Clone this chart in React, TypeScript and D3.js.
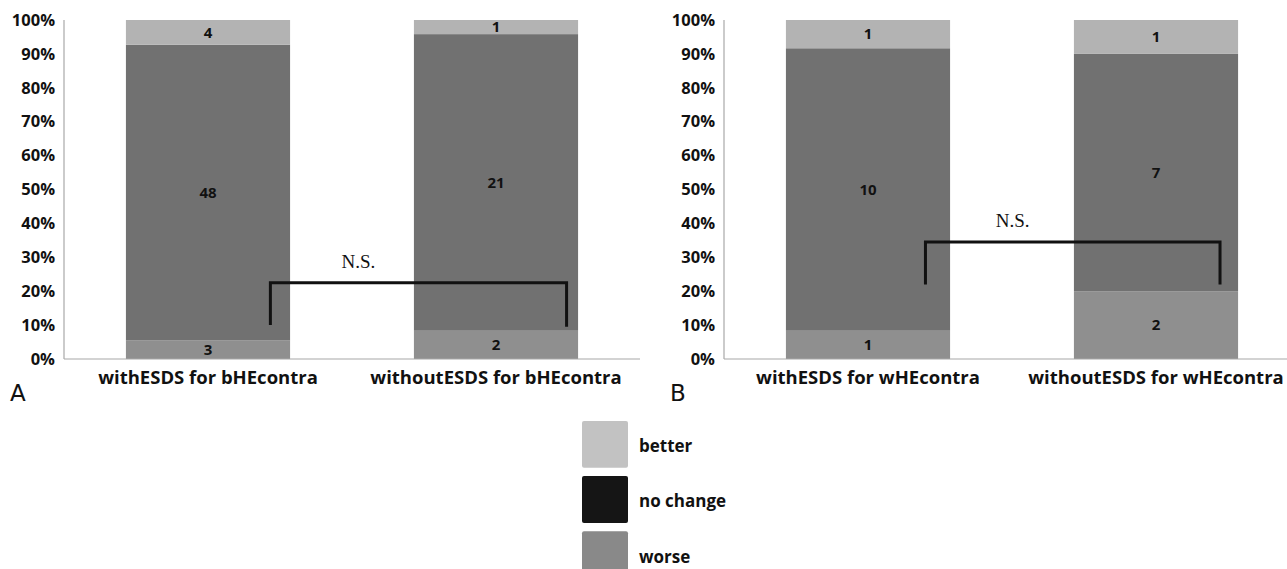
import React from "react";
import * as d3 from "d3";

// panel A: with / without ESDS for bHEcontra
const categoriesA = ["withESDS for bHEcontra", "withoutESDS for bHEcontra"];
const worseA = [3, 2];
const noChangeA = [48, 21];
const betterA = [4, 1];

// panel B: with / without ESDS for wHEcontra
const categoriesB = ["withESDS for wHEcontra", "withoutESDS for wHEcontra"];
const worseB = [1, 2];
const noChangeB = [10, 7];
const betterB = [1, 1];

const seriesKeys = ["worse", "noChange", "better"];
const legendLabels = ["better", "no change", "worse"];
const yTicks = [0, 0.1, 0.2, 0.3, 0.4, 0.5, 0.6, 0.7, 0.8, 0.9, 1];

// N.S. brackets, in percent of the y axis
const bracketTop = [0.225, 0.345];
const bracketBottom = [[0.1, 0.095], [0.22, 0.22]];
const bracketPos = [[0.88, 0.93], [0.85, 0.89]];

const barColors: Record<string, string> = {
  worse: "#8f8f8f",
  noChange: "#717171",
  better: "#b3b3b3"
};
const legendColors = ["#c2c2c2", "#151515", "#898989"];

const font = "'Open Sans', 'DejaVu Sans', sans-serif";

function Panel({ left, letter, categories, worse, noChange, better, panelIdx }: any) {
  const top = 20,
    bottom = 359,
    width = 576;

  const rows = categories.map((c: string, i: number) => {
    const total = worse[i] + noChange[i] + better[i];
    return {
      cat: c,
      worse: worse[i] / total,
      noChange: noChange[i] / total,
      better: better[i] / total,
      counts: { worse: worse[i], noChange: noChange[i], better: better[i] }
    };
  });

  const x = d3.scaleBand()
    .domain(categories)
    .range([left, left + width])
    .paddingInner(0.43)
    .paddingOuter(0.215);

  const y = d3.scaleLinear().domain([0, 1]).range([bottom, top]);

  const stacked = d3.stack<any>().keys(seriesKeys)(rows);

  const bars = stacked.map(layer => layer.map((d, i) => (
    <rect
      key={layer.key + i}
      x={x(rows[i].cat)}
      y={y(d[1])}
      width={x.bandwidth()}
      height={y(d[0]) - y(d[1])}
      fill={barColors[layer.key]}
    />
  )));

  const labels = stacked.map(layer => layer.map((d, i) => (
    <text
      key={"l" + layer.key + i}
      x={(x(rows[i].cat) as number) + x.bandwidth() / 2}
      y={(y(d[0]) + y(d[1])) / 2}
      dy=".35em"
      textAnchor="middle"
      fontSize={15}
      fontWeight="bold"
      fill="#111"
    >{rows[i].counts[layer.key]}</text>
  )));

  const axisLeft = yTicks.map((t, i) => (
    <text
      key={i}
      x={left - 9}
      y={y(t)}
      dy=".35em"
      textAnchor="end"
      fontSize={16.5}
      fontWeight="bold"
      fill="#111"
    >{Math.round(t * 100) + "%"}</text>
  ));

  const catLabels = categories.map((c: string, i: number) => (
    <text
      key={i}
      x={(x(c) as number) + x.bandwidth() / 2}
      y={384}
      textAnchor="middle"
      fontSize={18.5}
      fontWeight="bold"
      fill="#111"
    >{c}</text>
  ));

  const bx1 = (x(categories[0]) as number) + x.bandwidth() * bracketPos[panelIdx][0];
  const bx2 = (x(categories[1]) as number) + x.bandwidth() * bracketPos[panelIdx][1];
  const by = y(bracketTop[panelIdx]);

  return (
    <g style={{ fontFamily: font }}>
      {bars}
      {labels}
      <line x1={left} x2={left} y1={top} y2={bottom} stroke="#a8a8a8" strokeWidth={1.2} />
      <line x1={left} x2={left + width} y1={bottom} y2={bottom} stroke="#a8a8a8" strokeWidth={1.2} />
      {axisLeft}
      {catLabels}
      <path
        d={`M${bx1},${y(bracketBottom[panelIdx][0])}V${by}H${bx2}V${y(bracketBottom[panelIdx][1])}`}
        fill="none"
        stroke="#111"
        strokeWidth={3}
      />
      <text
        x={(bx1 + bx2) / 2 - 60}
        y={by - 15}
        textAnchor="middle"
        fontSize={19}
        fontFamily="'Liberation Serif', 'DejaVu Serif', serif"
        fill="#111"
      >N.S.</text>
      <text
        x={left - 54}
        y={401}
        fontSize={23}
        fill="#111"
        fontFamily="'DejaVu Sans', sans-serif"
      >{letter}</text>
    </g>
  );
}

export default function App() {
  const legendY = d3.scaleBand().domain(legendLabels).range([421, 578]).paddingInner(0.15);

  return (
    <svg
      width={1287}
      height={569}
      style={{ position: "absolute", left: 0, top: 0, background: "#fff" }}
    >
      <Panel left={64} letter="A" categories={categoriesA} worse={worseA} noChange={noChangeA} better={betterA} panelIdx={0} />
      <Panel left={724} letter="B" categories={categoriesB} worse={worseB} noChange={noChangeB} better={betterB} panelIdx={1} />
      <g style={{ fontFamily: font }}>
        {legendLabels.map((l, i) => (
          <g key={l}>
            <rect
              x={582}
              y={legendY(l)}
              width={46}
              height={legendY.bandwidth()}
              rx={2}
              fill={legendColors[i]}
            />
            <text
              x={639}
              y={(legendY(l) as number) + legendY.bandwidth() / 2 + 2}
              dy=".35em"
              fontSize={17}
              fontWeight="bold"
              fill="#111"
            >{l}</text>
          </g>
        ))}
      </g>
    </svg>
  );
}
